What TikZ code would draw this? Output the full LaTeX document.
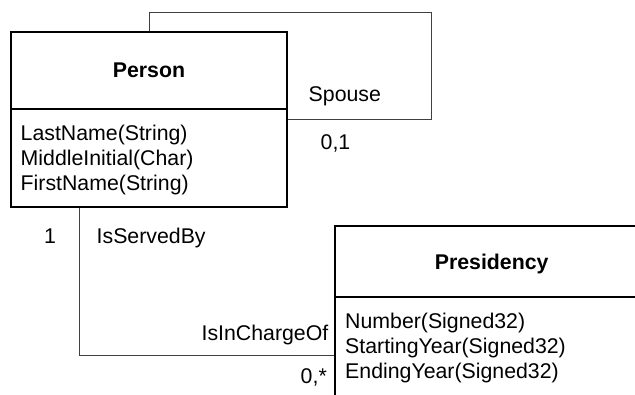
\documentclass[tikz,border=0pt]{standalone}
\usepackage{fontspec}
\setmainfont{Liberation Sans}
\begin{document}
\begin{tikzpicture}[x=1pt,y=-1pt,
  box/.style={draw=black,line width=1.2pt,inner sep=0pt},
  conn/.style={draw=black!75,line width=0.9pt},
  lbl/.style={inner sep=0pt,font=\fontsize{21.3}{25}\selectfont},
  title/.style={lbl,font=\fontsize{21.3}{25}\selectfont\bfseries}]
\useasboundingbox (0,0) rectangle (635,394);
\clip (0,0) rectangle (635,394);
% classes
\node[box,minimum width=276pt,minimum height=175pt] (person) at (149,119.5) {};
\node[box,minimum width=310pt,minimum height=180pt] (pres) at (490,316) {};
\draw[line width=1.2pt] (person.west |- 0,109) -- (person.east |- 0,109);
\draw[line width=1.2pt] (pres.west |- 0,297) -- (pres.east |- 0,297);
\node[title,anchor=base] (ptitle) at (149,77.5) {Person};
\node[lbl,anchor=base west] (pa1) at (20.5,140) {LastName(String)};
\node[lbl,anchor=base west] (pa2) at (20.5,165) {MiddleInitial(Char)};
\node[lbl,anchor=base west] (pa3) at (20.5,190) {FirstName(String)};
\node[title,anchor=base] (rtitle) at (491.7,269.3) {Presidency};
\node[lbl,anchor=base west] (ra1) at (345,328.5) {Number(Signed32)};
\node[lbl,anchor=base west] (ra2) at (345,353.5) {StartingYear(Signed32)};
\node[lbl,anchor=base west] (ra3) at (345,378.5) {EndingYear(Signed32)};
% self association
\coordinate (loopc) at (431,12);
\draw[conn] (person.north) |- (loopc) |- ([yshift=0.5pt]person.east);
\node[lbl,anchor=base west] (spouse) at (308.5,101) {Spouse};
\node[lbl,anchor=base west] (m01) at (320.5,149.5) {0,1};
% association Person - Presidency
\draw[conn] ([xshift=69pt]person.south west) |- ([yshift=-39pt]pres.west);
\node[lbl,anchor=base] (m1) at (50,243) {1};
\node[lbl,anchor=base west] (served) at (96.5,243) {IsServedBy};
\node[lbl,anchor=base east] (charge) at (328.5,340) {IsInChargeOf};
\node[lbl,anchor=base east] (m0s) at (327,383) {0,*};
\end{tikzpicture}
\end{document}
